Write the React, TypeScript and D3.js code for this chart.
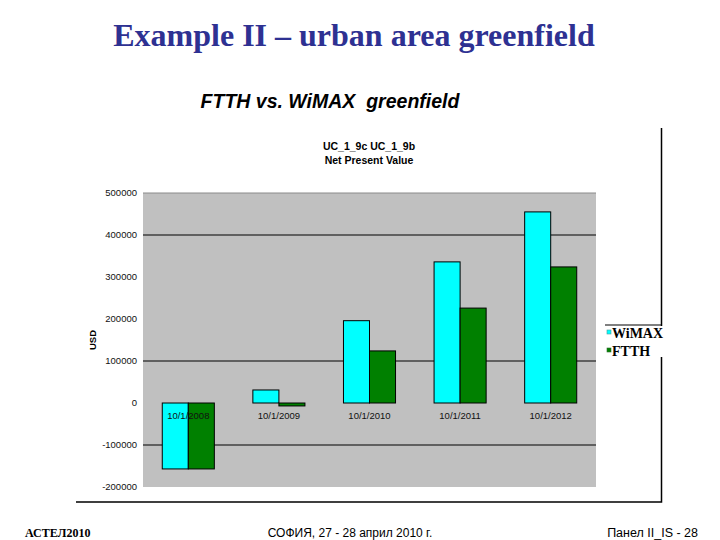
import React, { useEffect, useRef } from 'react';
import * as d3 from 'd3';

const categories = ['10/1/2008', '10/1/2009', '10/1/2010', '10/1/2011', '10/1/2012'];
const seriesNames = ['WiMAX', 'FTTH'];
const wimaxValues = [-157000, 31000, 196000, 336000, 455000];
const ftthValues = [-157000, -7000, 124000, 226000, 324000];
const yTicks = [500000, 400000, 300000, 200000, 100000, 0, -100000, -200000];
const gridValues = [400000, 100000, -100000];
const colors = ['#00FFFF', '#008000'];

const App = () => {
  const ref = useRef<SVGSVGElement>(null);

  useEffect(() => {
    const svg = d3.select(ref.current);
    svg.selectAll('*').remove();

    const left = 143, right = 596, top = 193, bottom = 487;

    // slide title and subtitle
    svg.append('text')
      .attr('x', 354).attr('y', 46)
      .attr('text-anchor', 'middle')
      .style('font-family', '"Liberation Serif", "Times New Roman", serif')
      .style('font-weight', 'bold')
      .style('font-size', '32px')
      .attr('fill', '#2E3192')
      .text('Example II – urban area greenfield');

    svg.append('text')
      .attr('x', 330).attr('y', 108)
      .attr('text-anchor', 'middle')
      .style('font-family', '"Liberation Sans", Arial, sans-serif')
      .style('font-weight', 'bold')
      .style('font-style', 'italic')
      .style('font-size', '19.5px')
      .attr('fill', '#000')
      .attr('xml:space', 'preserve')
      .text('FTTH vs. WiMAX  greenfield');

    // outer frame
    svg.append('path')
      .attr('d', 'M76,502 H661.5 V357 M661.5,326 V128')
      .attr('fill', 'none')
      .attr('stroke', '#000')
      .attr('stroke-width', 1.5);

    // chart titles
    const chartTitle = svg.append('g')
      .style('font-family', '"Liberation Sans", Arial, sans-serif')
      .style('font-weight', 'bold')
      .style('font-size', '10.5px');
    chartTitle.append('text').attr('x', 369).attr('y', 150).attr('text-anchor', 'middle').text('UC_1_9c UC_1_9b');
    chartTitle.append('text').attr('x', 369).attr('y', 164).attr('text-anchor', 'middle').text('Net Present Value');

    const y = d3.scaleLinear().domain([-200000, 500000]).range([bottom, top]);
    const x = d3.scaleBand().domain(categories).range([left, right]).padding(0);
    const xs = d3.scaleBand().domain(seriesNames).range([0, x.bandwidth()]).paddingInner(0).paddingOuter(0.74);

    // plot area
    svg.append('rect')
      .attr('x', left).attr('y', top)
      .attr('width', right - left).attr('height', bottom - top)
      .attr('fill', '#C0C0C0');
    svg.append('line')
      .attr('x1', left).attr('x2', right)
      .attr('y1', top).attr('y2', top)
      .attr('stroke', '#8a8a8a');

    svg.selectAll('.grid')
      .data(gridValues)
      .enter()
      .append('line')
      .attr('x1', left).attr('x2', right)
      .attr('y1', d => y(d)).attr('y2', d => y(d))
      .attr('stroke', '#000')
      .attr('stroke-width', 1);

    // y tick labels
    svg.selectAll('.ytick')
      .data(yTicks)
      .enter()
      .append('text')
      .attr('x', 137)
      .attr('y', d => y(d) + 3)
      .attr('text-anchor', 'end')
      .style('font-family', '"Liberation Sans", Arial, sans-serif')
      .style('font-size', '9.5px')
      .attr('fill', '#111')
      .text(d => String(d));

    svg.append('text')
      .attr('transform', 'translate(96,340) rotate(-90)')
      .attr('text-anchor', 'middle')
      .style('font-family', '"Liberation Sans", Arial, sans-serif')
      .style('font-weight', 'bold')
      .style('font-size', '9.5px')
      .text('USD');

    // bars
    const series = [wimaxValues, ftthValues];
    series.forEach((vals, si) => {
      svg.selectAll('.bar' + si)
        .data(vals)
        .enter()
        .append('rect')
        .attr('x', (d, i) => (x(categories[i]) ?? 0) + (xs(seriesNames[si]) ?? 0))
        .attr('y', d => y(Math.max(0, d)))
        .attr('width', xs.bandwidth())
        .attr('height', d => Math.abs(y(d) - y(0)))
        .attr('fill', colors[si])
        .attr('stroke', '#000')
        .attr('stroke-width', 1);
    });

    // category labels
    svg.selectAll('.xlab')
      .data(categories)
      .enter()
      .append('text')
      .attr('x', d => (x(d) ?? 0) + x.bandwidth() / 2)
      .attr('y', y(0) + 16)
      .attr('text-anchor', 'middle')
      .style('font-family', '"Liberation Sans", Arial, sans-serif')
      .style('font-size', '9.5px')
      .attr('fill', '#111')
      .text(d => d);

    // legend
    svg.append('line')
      .attr('x1', 605).attr('x2', 661.5)
      .attr('y1', 325).attr('y2', 325)
      .attr('stroke', '#000')
      .attr('stroke-width', 1);
    const legend = svg.append('g');
    seriesNames.forEach((name, i) => {
      legend.append('rect')
        .attr('x', 607).attr('y', 330 + i * 18)
        .attr('width', 4).attr('height', 4)
        .attr('fill', colors[i])
        .attr('stroke', i === 0 ? '#4a9a9a' : '#2f6f2f')
        .attr('stroke-width', 0.6);
      legend.append('text')
        .attr('x', 612).attr('y', 338 + i * 18)
        .style('font-family', '"Liberation Serif", "Times New Roman", serif')
        .style('font-weight', 'bold')
        .style('font-size', '14px')
        .text(name);
    });

    // footer
    const footer = svg.append('g').style('font-size', '12px');
    footer.append('text')
      .attr('x', 25).attr('y', 537)
      .style('font-family', '"Liberation Serif", "Times New Roman", serif')
      .style('font-weight', 'bold')
      .text('АСТЕЛ2010');
    footer.append('text')
      .attr('x', 350).attr('y', 537)
      .attr('text-anchor', 'middle')
      .style('font-family', '"Liberation Sans Narrow", "Liberation Sans", Arial, sans-serif')
      .text('СОФИЯ, 27 - 28 април 2010 г.');
    footer.append('text')
      .attr('x', 698).attr('y', 537)
      .attr('text-anchor', 'end')
      .style('font-family', '"Liberation Sans Narrow", "Liberation Sans", Arial, sans-serif')
      .style('font-size', '12.5px')
      .text('Панел II_IS - 28');
  }, []);

  return (
    <svg ref={ref} width={720} height={540}
      style={{ position: 'absolute', left: 0, top: 0, background: '#fff' }} />
  );
};

export default App;
